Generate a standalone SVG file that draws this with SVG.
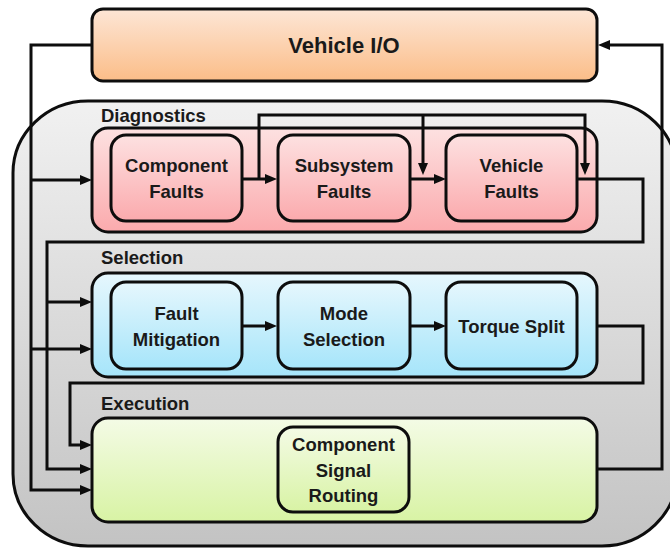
<svg xmlns="http://www.w3.org/2000/svg" width="670" height="548" viewBox="0 0 670 548">
  <defs>
    <linearGradient id="gOrange" x1="0" y1="0" x2="0" y2="1">
      <stop offset="0" stop-color="#fde6d6"/>
      <stop offset="1" stop-color="#fbbd88"/>
    </linearGradient>
    <linearGradient id="gGrey" x1="0" y1="0" x2="0" y2="1">
      <stop offset="0" stop-color="#f1f1f1"/>
      <stop offset="1" stop-color="#c3c3c3"/>
    </linearGradient>
    <linearGradient id="gPink" x1="0" y1="0" x2="0" y2="1">
      <stop offset="0" stop-color="#fde1e1"/>
      <stop offset="1" stop-color="#fbaaad"/>
    </linearGradient>
    <linearGradient id="gBlue" x1="0" y1="0" x2="0" y2="1">
      <stop offset="0" stop-color="#e6f7fd"/>
      <stop offset="1" stop-color="#a6e5fa"/>
    </linearGradient>
    <linearGradient id="gGreen" x1="0" y1="0" x2="0" y2="1">
      <stop offset="0" stop-color="#f4fbe6"/>
      <stop offset="1" stop-color="#d8f3a4"/>
    </linearGradient>
    <marker id="arrow" markerUnits="userSpaceOnUse" markerWidth="12" markerHeight="10" refX="4" refY="5" orient="auto" overflow="visible">
      <path d="M0,0 L12,5 L0,10 Z" fill="#0d0d0d"/>
    </marker>
  </defs>
  <style>
    .box { stroke: #0d0d0d; stroke-width: 3; }
    .wire { fill: none; stroke: #0d0d0d; stroke-width: 3; stroke-linejoin: miter; }
    .title { font-family: "Liberation Sans", Arial, sans-serif; font-weight: bold; font-size: 18.5px; fill: #1a1a1a; }
    .label { font-family: "Liberation Sans", Arial, sans-serif; font-weight: bold; font-size: 18.5px; fill: #1a1a1a; text-anchor: middle; }
    .big { font-size: 22px; }
  </style>

  <!-- outer controller container -->
  <g id="controller">
    <rect x="13" y="101" width="664" height="445" rx="75" ry="72" fill="url(#gGrey)" class="box"/>
  </g>

  <!-- top-level I/O block -->
  <g id="vehicle-io">
    <rect x="92" y="9" width="505" height="72" rx="11" fill="url(#gOrange)" class="box"/>
    <text x="344" y="53" class="label big">Vehicle I/O</text>
  </g>

  <!-- diagnostics layer -->
  <g id="diagnostics">
    <text x="101" y="122" class="title">Diagnostics</text>
    <rect x="92" y="128" width="505" height="104" rx="16" fill="url(#gPink)" class="box"/>
  </g>
  <g id="component-faults">
    <rect x="111" y="135" width="131" height="86" rx="15" fill="url(#gPink)" class="box"/>
    <text x="176.5" y="172" class="label">Component</text>
    <text x="176.5" y="198" class="label">Faults</text>
  </g>
  <g id="subsystem-faults">
    <rect x="278" y="135" width="132" height="86" rx="15" fill="url(#gPink)" class="box"/>
    <text x="344" y="172" class="label">Subsystem</text>
    <text x="344" y="198" class="label">Faults</text>
  </g>
  <g id="vehicle-faults">
    <rect x="446" y="135" width="131" height="86" rx="15" fill="url(#gPink)" class="box"/>
    <text x="511.5" y="172" class="label">Vehicle</text>
    <text x="511.5" y="198" class="label">Faults</text>
  </g>

  <!-- selection layer -->
  <g id="selection">
    <text x="101" y="264" class="title">Selection</text>
    <rect x="92" y="273" width="505" height="104" rx="16" fill="url(#gBlue)" class="box"/>
  </g>
  <g id="fault-mitigation">
    <rect x="111" y="282" width="131" height="87" rx="15" fill="url(#gBlue)" class="box"/>
    <text x="176.5" y="320" class="label">Fault</text>
    <text x="176.5" y="346" class="label">Mitigation</text>
  </g>
  <g id="mode-selection">
    <rect x="278" y="282" width="132" height="87" rx="15" fill="url(#gBlue)" class="box"/>
    <text x="344" y="320" class="label">Mode</text>
    <text x="344" y="346" class="label">Selection</text>
  </g>
  <g id="torque-split">
    <rect x="446" y="282" width="131" height="87" rx="15" fill="url(#gBlue)" class="box"/>
    <text x="511.5" y="333" class="label">Torque Split</text>
  </g>

  <!-- execution layer -->
  <g id="execution">
    <text x="101" y="410" class="title">Execution</text>
    <rect x="92" y="418" width="505" height="104" rx="16" fill="url(#gGreen)" class="box"/>
  </g>
  <g id="signal-routing">
    <rect x="278" y="427" width="131" height="85" rx="15" fill="url(#gGreen)" class="box"/>
    <text x="343.5" y="451" class="label">Component</text>
    <text x="343.5" y="477" class="label">Signal</text>
    <text x="343.5" y="502" class="label">Routing</text>
  </g>

  <!-- connectors -->
  <g id="connectors">
    <!-- vehicle inputs fan out to every layer -->
    <path class="wire" d="M92,45 H31 V490 H84" marker-end="url(#arrow)"/>
    <path class="wire" d="M31,180 H84" marker-end="url(#arrow)"/>
    <path class="wire" d="M31,349 H84" marker-end="url(#arrow)"/>

    <!-- diagnostics chain -->
    <path class="wire" d="M242,179 H269" marker-end="url(#arrow)"/>
    <path class="wire" d="M410,179 H438" marker-end="url(#arrow)"/>
    <path class="wire" d="M259,179 V115 H585 V167" marker-end="url(#arrow)"/>
    <path class="wire" d="M423,115 V167" marker-end="url(#arrow)"/>

    <!-- fault status feeds selection and execution -->
    <path class="wire" d="M577,179 H643 V242 H47 V469 H84" marker-end="url(#arrow)"/>
    <path class="wire" d="M47,302 H84" marker-end="url(#arrow)"/>

    <!-- selection chain -->
    <path class="wire" d="M242,326 H269" marker-end="url(#arrow)"/>
    <path class="wire" d="M410,326 H438" marker-end="url(#arrow)"/>

    <!-- torque split feeds execution -->
    <path class="wire" d="M597,326 H643 V383 H70 V445 H84" marker-end="url(#arrow)"/>

    <!-- execution outputs back to vehicle -->
    <path class="wire" d="M597,469 H662 V45 H606" marker-end="url(#arrow)"/>
  </g>
</svg>
